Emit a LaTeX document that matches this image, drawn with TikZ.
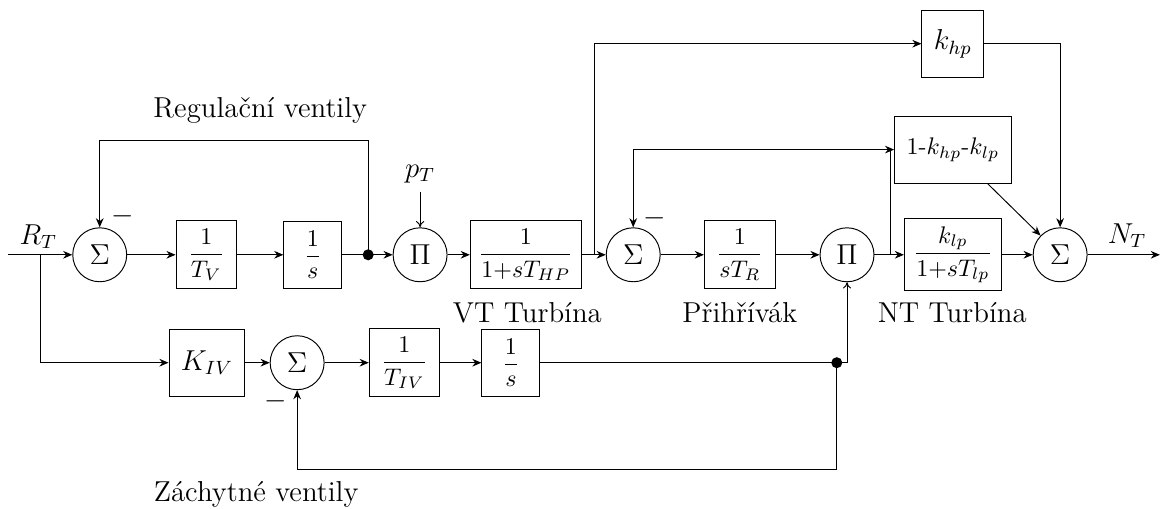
\documentclass[tikz,border=0pt]{standalone}
\usepackage{amsmath,amssymb}
\usepackage{fontspec}
\usepackage{tikz}
\usetikzlibrary{arrows.meta}

\begin{document}
\begin{tikzpicture}[>={Stealth[length=3.8pt,width=3.2pt]},
  blok/.style={draw,minimum width=0.85cm,minimum height=0.98cm,inner xsep=5pt},
  suma/.style={draw,circle,minimum size=0.79cm,inner sep=0pt,font=\large},
  popis/.style={font=\large},
  bod/.style={circle,fill,inner sep=0pt,minimum size=4.6pt},
  tenka/.style={-{To[length=2.6pt,width=3.4pt]}}]
  \useasboundingbox (0,-3.72) rectangle (17.07,3.73);
  \def\yd{-1.58}
  \def\yp{-0.85}

  % horni vetev
  \coordinate (in) at (0.12,0);
  \coordinate (rozv) at (0.59,0);
  \node[popis] (RT) at (0.56,0.27) {$R_T$};
  \node[suma] (S1) at (1.46,0) {$\Sigma$};
  \node[blok] (TV) at (3.02,0) {$\dfrac{1}{T_V}$};
  \node[blok] (int1) at (4.58,0) {$\dfrac{1}{s}$};
  \node[bod] (d1) at (5.39,0) {};
  \coordinate (rv) at (5.39,1.68);
  \node[suma] (P1) at (6.15,0) {$\Pi$};
  \node[popis] (pT) at (6.15,1.18) {$p_T$};
  \node[blok,minimum width=1.63cm,inner xsep=2pt] (HP) at (7.70,0) {$\dfrac{1}{1{+}sT_{HP}}$};
  \coordinate (r2) at (8.70,0);
  \node[suma] (S2) at (9.27,0) {$\Sigma$};
  \node[blok,minimum width=0.97cm] (TR) at (10.83,0) {$\dfrac{1}{sT_R}$};
  \node[suma] (P2) at (12.40,0) {$\Pi$};
  \coordinate (r3) at (13.03,0);
  \coordinate (r4) at (13.03,1.54);
  \node[blok,minimum width=1.42cm,inner xsep=2pt] (LP) at (13.95,0) {$\dfrac{k_{lp}}{1{+}sT_{lp}}$};
  \node[blok,minimum width=1.63cm] (KM) at (13.95,1.54) {1-$k_{hp}$-$k_{lp}$};
  \node[blok,font=\large] (KHP) at (13.95,3.09) {$k_{hp}$};
  \node[suma] (S3) at (15.52,0) {$\Sigma$};
  \coordinate (out) at (16.98,0);
  \node[popis] (NT) at (16.50,0.28) {$N_T$};

  % dolni vetev
  \node[blok,font=\large,minimum width=1.11cm] (KIV) at (3.03,\yd) {$K_{IV}$};
  \node[suma] (S4) at (4.35,\yd) {$\Sigma$};
  \node[blok,minimum width=0.97cm] (TIV) at (5.92,\yd) {$\dfrac{1}{T_{IV}}$};
  \node[blok] (int2) at (7.48,\yd) {$\dfrac{1}{s}$};
  \node[bod] (d2) at (12.25,\yd) {};
  \coordinate (v2) at (12.40,\yd);
  \coordinate (zp) at (12.25,-3.15);

  % popisky
  \node[popis] (regv) at (3.81,2.12) {Regulační ventily};
  \node[popis] (zachv) at (3.75,-3.51) {Záchytné ventily};
  \node[popis] (vt) at (7.72,\yp) {VT Turbína};
  \node[popis] (prih) at (10.83,\yp) {Přihřívák};
  \node[popis] (nt) at (13.94,\yp) {NT Turbína};
  \node[popis] (m1) at (1.79,0.57) {$-$};
  \node[popis] (m2) at (9.59,0.54) {$-$};
  \node[popis] (m4) at (4.04,-2.14) {$-$};

  % spoje
  \draw[->] (in) -- (S1);
  \draw[->] (S1) -- (TV);
  \draw[->] (TV) -- (int1);
  \draw[->] (int1) -- (P1);
  \draw[->] (d1.center) -- (rv) -| (S1);
  \draw[tenka] (pT) -- (P1);
  \draw[->] (P1) -- (HP);
  \draw[->] (HP) -- (S2);
  \draw[->] (r2) |- (KHP);
  \draw[->] (S2) -- (TR);
  \draw[->] (TR) -- (P2);
  \draw[->] (P2) -- (LP);
  \draw[->] (r3) -- (r4) -- (KM);
  \draw[->] (r4) -| (S2);
  \draw[->] (KHP) -| (S3);
  \draw[->] (KM) -- (S3);
  \draw[->] (LP) -- (S3);
  \draw[->] (S3) -- (out);

  \draw[->] (rozv) |- (KIV);
  \draw[->] (KIV) -- (S4);
  \draw[->] (S4) -- (TIV);
  \draw[->] (TIV) -- (int2);
  \draw[tenka] (int2) -- (v2) -- (P2);
  \draw[->] (d2.center) -- (zp) -| (S4);
\end{tikzpicture}
\end{document}
